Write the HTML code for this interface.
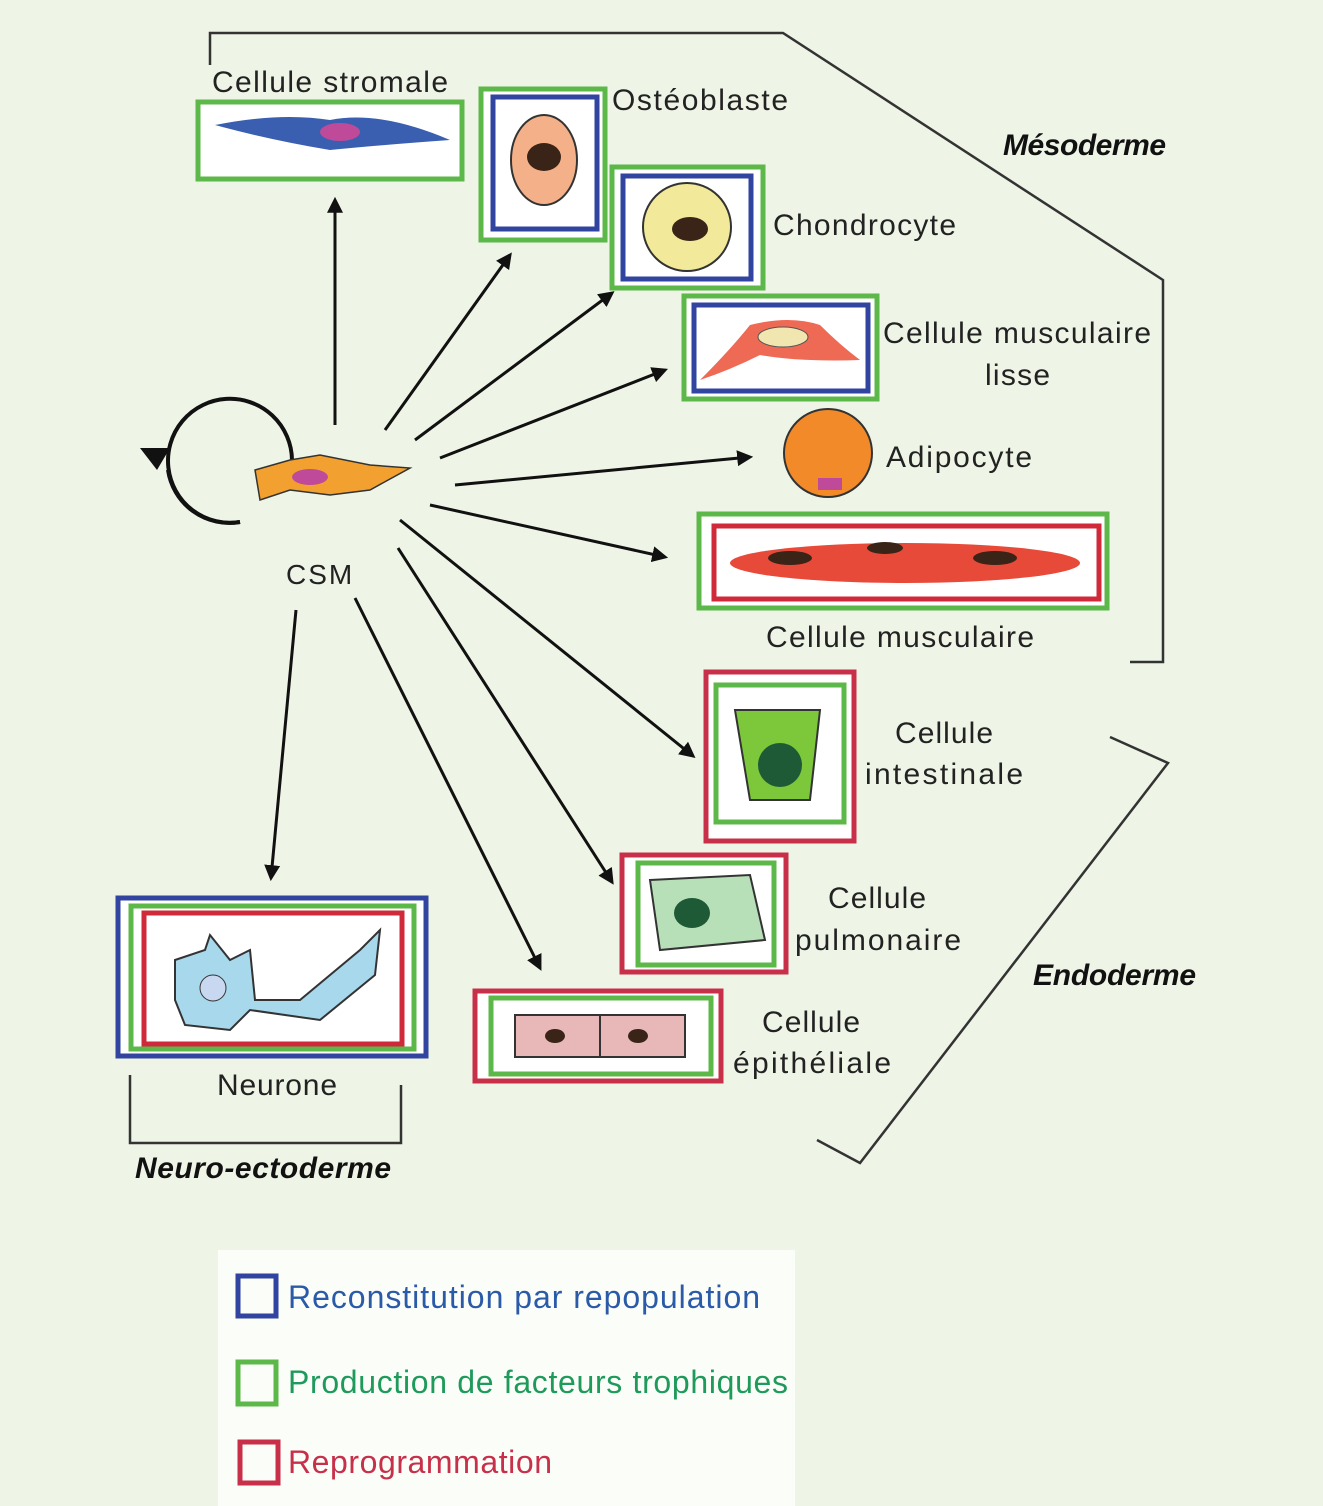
<!DOCTYPE html>
<html><head><meta charset="utf-8"><style>
html,body{margin:0;padding:0;background:#eef5e4;}
svg{display:block;}
text{font-family:"Liberation Sans",sans-serif;font-size:30px;fill:#222;}
.b{font-weight:bold;font-style:italic;fill:#111;}
</style></head><body>
<svg width="1323" height="1506" viewBox="0 0 1323 1506">
<defs>
<marker id="ah" viewBox="0 0 10 10" markerWidth="16" markerHeight="16" refX="8" refY="5" orient="auto" markerUnits="userSpaceOnUse"><path d="M0,0 L10,5 L0,10 z" fill="#111"/></marker></defs>
<rect width="1323" height="1506" fill="#eef5e6"/>
<polyline points="210,65 210,33 783,33 1163,280 1163,662 1130,662" fill="none" stroke="#333" stroke-width="2.5"/>
<polyline points="1110,737 1168,763 860,1163 817,1140" fill="none" stroke="#333" stroke-width="2.5"/>
<polyline points="130,1075 130,1143 401,1143 401,1085" fill="none" stroke="#333" stroke-width="2.5"/>
<text class="b" x="1003" y="155" textLength="163">Mésoderme</text>
<text class="b" x="1033" y="985" textLength="163">Endoderme</text>
<text class="b" x="135" y="1178" textLength="256">Neuro-ectoderme</text>
<rect x="198" y="102" width="264" height="77" fill="#fff" stroke="#5cb848" stroke-width="5"/>
<path d="M215,125 Q280,112 330,120 Q380,110 450,140 Q380,145 330,150 Q270,140 215,125z" fill="#3a5fb0"/>
<ellipse cx="340" cy="132" rx="20" ry="9" fill="#c04a9a"/>
<text x="212" y="92" textLength="236">Cellule stromale</text>
<rect x="481" y="89" width="124" height="151" fill="#fff" stroke="#5cb848" stroke-width="5"/>
<rect x="493" y="97" width="104" height="132" fill="none" stroke="#3044a0" stroke-width="5"/>
<ellipse cx="544" cy="160" rx="33" ry="45" fill="#f4b088" stroke="#333" stroke-width="2"/>
<ellipse cx="544" cy="157" rx="17" ry="14" fill="#3a2418"/>
<text x="612" y="110" textLength="176">Ostéoblaste</text>
<rect x="612" y="167" width="151" height="121" fill="#fff" stroke="#5cb848" stroke-width="5"/>
<rect x="623" y="176" width="128" height="103" fill="none" stroke="#3044a0" stroke-width="5"/>
<circle cx="687" cy="227" r="44" fill="#f2ea9a" stroke="#333" stroke-width="2"/>
<ellipse cx="690" cy="229" rx="18" ry="12" fill="#3a2418"/>
<text x="773" y="235" textLength="183">Chondrocyte</text>
<rect x="684" y="296" width="193" height="103" fill="#fff" stroke="#5cb848" stroke-width="5"/>
<rect x="694" y="305" width="174" height="86" fill="none" stroke="#3044a0" stroke-width="5"/>
<path d="M700,380 Q730,350 750,325 Q790,315 820,325 Q840,345 860,360 Q800,362 760,355 Q730,370 700,380z" fill="#ee6a55"/>
<ellipse cx="783" cy="337" rx="25" ry="10" fill="#f2e6b0" stroke="#555"/>
<text x="883" y="343" textLength="268">Cellule musculaire</text>
<text x="985" y="385" textLength="65">lisse</text>
<circle cx="828" cy="453" r="44" fill="#f28a2a" stroke="#333" stroke-width="2"/>
<rect x="818" y="478" width="24" height="12" fill="#c04a9a"/>
<text x="886" y="467" textLength="146">Adipocyte</text>
<rect x="699" y="514" width="408" height="94" fill="#fff" stroke="#5cb848" stroke-width="5"/>
<rect x="714" y="526" width="385" height="73" fill="none" stroke="#d02a3a" stroke-width="5"/>
<ellipse cx="905" cy="563" rx="175" ry="20" fill="#e84a3a"/>
<ellipse cx="790" cy="558" rx="22" ry="7" fill="#3a2418"/>
<ellipse cx="885" cy="548" rx="18" ry="6" fill="#3a2418"/>
<ellipse cx="995" cy="558" rx="22" ry="7" fill="#3a2418"/>
<text x="766" y="647" textLength="268">Cellule musculaire</text>
<rect x="706" y="672" width="148" height="169" fill="#fff" stroke="#c8304a" stroke-width="5"/>
<rect x="716" y="685" width="128" height="137" fill="none" stroke="#5cb848" stroke-width="5"/>
<path d="M735,710 L820,710 L810,800 L750,800z" fill="#7cc83a" stroke="#333" stroke-width="2"/>
<circle cx="780" cy="765" r="22" fill="#1e5a36"/>
<text x="895" y="743" textLength="98">Cellule</text>
<text x="865" y="784" textLength="158">intestinale</text>
<rect x="622" y="855" width="164" height="117" fill="#fff" stroke="#c8304a" stroke-width="5"/>
<rect x="638" y="863" width="136" height="102" fill="none" stroke="#5cb848" stroke-width="5"/>
<path d="M650,880 L750,875 L765,940 L660,950z" fill="#b8e0b8" stroke="#333" stroke-width="2"/>
<ellipse cx="692" cy="913" rx="18" ry="15" fill="#1e5a36"/>
<text x="828" y="908" textLength="98">Cellule</text>
<text x="795" y="950" textLength="166">pulmonaire</text>
<rect x="475" y="991" width="246" height="90" fill="#fff" stroke="#c8304a" stroke-width="5"/>
<rect x="491" y="998" width="220" height="76" fill="none" stroke="#5cb848" stroke-width="5"/>
<rect x="515" y="1015" width="85" height="42" fill="#e8b8b8" stroke="#333" stroke-width="2"/>
<rect x="600" y="1015" width="85" height="42" fill="#e8b8b8" stroke="#333" stroke-width="2"/>
<ellipse cx="555" cy="1036" rx="10" ry="7" fill="#3a2418"/>
<ellipse cx="638" cy="1036" rx="10" ry="7" fill="#3a2418"/>
<text x="762" y="1032" textLength="98">Cellule</text>
<text x="733" y="1073" textLength="158">épithéliale</text>
<rect x="118" y="898" width="308" height="158" fill="#fff" stroke="#3044a0" stroke-width="5"/>
<rect x="131" y="906" width="283" height="143" fill="none" stroke="#5cb848" stroke-width="5"/>
<rect x="144" y="913" width="258" height="131" fill="none" stroke="#d02a3a" stroke-width="5"/>
<path d="M175,960 L205,950 L210,935 L230,960 L250,950 L255,1000 L300,1000 L360,950 L380,930 L375,975 L320,1020 L250,1010 L230,1030 L185,1025 L175,1000z" fill="#a8d8ec" stroke="#333" stroke-width="2"/>
<circle cx="213" cy="988" r="13" fill="#c8d8f0" stroke="#333"/>
<text x="217" y="1095" textLength="120">Neurone</text>
<path d="M292,460 A62,62 0 1 0 240,522" fill="none" stroke="#111" stroke-width="4"/>
<path d="M240,522 A62,62 0 0 1 168,470" fill="none" stroke="#111" stroke-width="4"/>
<path d="M140,448 L170,448 L157,470z" fill="#111"/>
<path d="M255,470 L290,460 L320,455 L370,465 L410,468 L370,490 L330,495 L290,490 L260,500z" fill="#f2a030" stroke="#333" stroke-width="1.5"/>
<ellipse cx="310" cy="477" rx="18" ry="8" fill="#c04a9a"/>
<text x="286" y="584" style="font-size:28px;letter-spacing:2px">CSM</text>
<g stroke="#111" stroke-width="3" marker-end="url(#ah)">
<line x1="335" y1="425" x2="335" y2="200"/>
<line x1="385" y1="430" x2="510" y2="255"/>
<line x1="415" y1="440" x2="612" y2="293"/>
<line x1="440" y1="458" x2="665" y2="370"/>
<line x1="455" y1="485" x2="750" y2="457"/>
<line x1="430" y1="505" x2="665" y2="557"/>
<line x1="400" y1="520" x2="693" y2="756"/>
<line x1="398" y1="548" x2="612" y2="882"/>
<line x1="355" y1="598" x2="540" y2="968"/>
<line x1="296" y1="610" x2="271" y2="878"/>
</g>
<rect x="218" y="1250" width="577" height="256" fill="#fbfdf9"/>
<rect x="238" y="1276" width="38" height="40" fill="none" stroke="#3044a0" stroke-width="5"/>
<rect x="238" y="1362" width="38" height="42" fill="none" stroke="#5cb848" stroke-width="5"/>
<rect x="240" y="1442" width="38" height="41" fill="none" stroke="#c8304a" stroke-width="5"/>
<text x="288" y="1308" textLength="472" style="fill:#2a5aa8;font-size:32px">Reconstitution par repopulation</text>
<text x="288" y="1393" textLength="500" style="fill:#1e9a5a;font-size:32px">Production de facteurs trophiques</text>
<text x="288" y="1473" textLength="264" style="fill:#c8304a;font-size:32px">Reprogrammation</text>
</svg>
</body></html>
